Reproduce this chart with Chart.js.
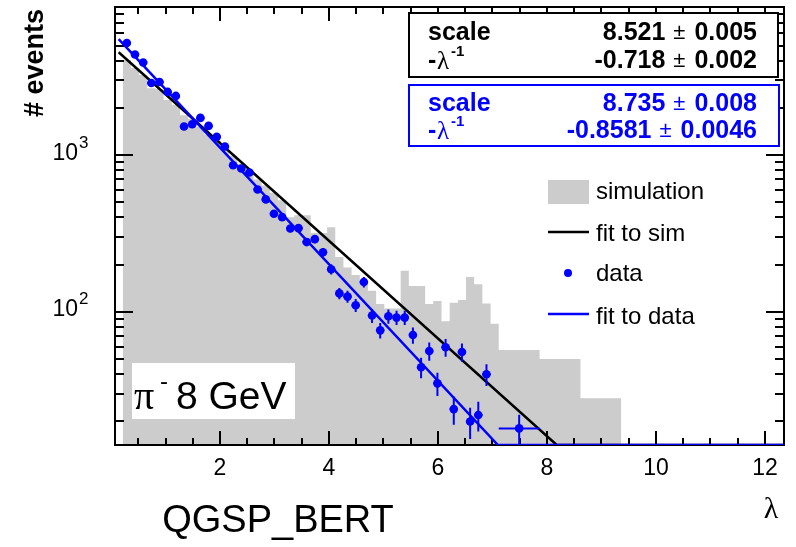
<!DOCTYPE html>
<html><head><meta charset="utf-8">
<script src="https://cdn.jsdelivr.net/npm/chart.js@4"></script>
<style>html,body{margin:0;padding:0;background:#fff}#wrap{width:796px;height:547px;position:relative}</style>
</head><body><div id="wrap"><canvas id="c" width="796" height="547"></canvas></div>
<script>
// ---- data ----
const simEdges = [0.215,0.365,0.515,0.665,0.815,0.965,1.115,1.265,1.415,1.565,1.715,1.865,2.015,2.165,2.315,2.465,2.615,2.765,2.915,3.065,3.215,3.365,3.515,3.665,3.815,3.965,4.115,4.265,4.415,4.565,4.715,4.865,5.015,5.165,5.315,5.465,5.615,5.765,5.915,6.065,6.215,6.365,6.515,6.665,6.815,6.965,7.115,7.865,8.615,9.365];
const simCounts = [4050,3600,3250,2680,2650,2250,2100,1800,1700,1520,1350,1230,1080,990,880,800,700,640,575,515,402,414,414,318,318,346,224,192,172,155,136,112,105,105,183,146,146,112,117,87,114,119,167,150,113,84,57,50,28];
const dataX = [0.29,0.44,0.59,0.74,0.89,1.04,1.19,1.34,1.49,1.64,1.79,1.94,2.09,2.24,2.39,2.54,2.69,2.84,2.99,3.14,3.29,3.44,3.59,3.74,3.89,4.04,4.19,4.34,4.49,4.64,4.79,4.94,5.09,5.24,5.39,5.54,5.69,5.84,5.99,6.14,6.29,6.44,6.59,6.74,6.89,7.49];
const dataY = [5208,4391,3905,2893,2936,2535,2390,1525,1577,1730,1538,1309,1136,863,823,776,604,522,423,402,340,342,279,291,240,187,131,125,110,155,94.6,76.1,93.6,91.8,91.8,71.0,44.2,56.1,34.9,59.3,23.9,55.3,19.9,21.9,39.9,18.0];
const dataYErr = [72,66,62,54,54,50,49,39,40,42,39,36,34,29,29,28,25,23,21,20,18,18,17,17,15,14,11,11,10.5,12,9.7,8.7,9.7,9.6,9.6,8.4,6.6,7.5,5.9,7.7,4.9,7.4,4.5,4.7,6.3,4];
const dataXErr = [0.075,0.075,0.075,0.075,0.075,0.075,0.075,0.075,0.075,0.075,0.075,0.075,0.075,0.075,0.075,0.075,0.075,0.075,0.075,0.075,0.075,0.075,0.075,0.075,0.075,0.075,0.075,0.075,0.075,0.075,0.075,0.075,0.075,0.075,0.075,0.075,0.075,0.075,0.075,0.075,0.075,0.075,0.075,0.075,0.075,0.375];
const fitSimX = [0.14, 8.18, 12.35];
const fitSimY = [4543, 14.1, 14.1];
const fitDataX = [0.14, 7.10, 12.35];
const fitDataY = [5515, 14.1, 14.1];
const xTickValues = [2,4,6,8,10,12];
const yTickValues = [100,1000];
const yTickExps = ['2','3'];
const legendLabels = ['simulation','fit to sim','data','fit to data'];
const simStats = [['scale','8.521','0.005'],['-λ','-0.718','0.002']];
const dataStats = [['scale','8.735','0.008'],['-λ','-0.8581','0.0046']];

const SANS = '"Liberation Sans", Arial, sans-serif';
const SERIF = '"Liberation Serif", "DejaVu Serif", serif';
const BLUE = '#0000ff', GRAY = '#cccccc';

const histPoints = simCounts.map((c,i)=>({x:simEdges[i], y:c}));
histPoints.push({x:simEdges[simEdges.length-1], y:simCounts[simCounts.length-1]});

function drawFrame(chart){
  const {ctx, chartArea:a, scales:{x,y}} = chart;
  ctx.save();
  ctx.strokeStyle='#000'; ctx.lineWidth=2;
  ctx.strokeRect(a.left, a.top, a.right-a.left, a.bottom-a.top);
  ctx.beginPath();
  for (let v=0.5; v<=x.max+1e-9; v+=0.5){
    const px = Math.round(x.getPixelForValue(v));
    const major = Math.abs(v/2-Math.round(v/2))<1e-6;
    const L = major?14:7;
    ctx.moveTo(px,a.bottom); ctx.lineTo(px,a.bottom-L);
    ctx.moveTo(px,a.top); ctx.lineTo(px,a.top+L);
  }
  for (const d of [10,100,1000]){
    for (let m=1;m<=9;m++){
      const v=m*d; if (v<y.min||v>y.max) continue;
      const py=Math.round(y.getPixelForValue(v));
      const L = m===1?18:9;
      ctx.moveTo(a.left,py); ctx.lineTo(a.left+L,py);
      ctx.moveTo(a.right,py); ctx.lineTo(a.right-L,py);
    }
  }
  ctx.stroke();
  ctx.restore();
}

function drawErrors(chart){
  const {ctx, chartArea:a, scales:{x,y}} = chart;
  ctx.save();
  ctx.beginPath(); ctx.rect(a.left,a.top,a.right-a.left,a.bottom-a.top+2); ctx.clip();
  ctx.strokeStyle=BLUE; ctx.lineWidth=2;
  ctx.beginPath();
  dataX.forEach((xv,i)=>{
    const px=x.getPixelForValue(xv), py=y.getPixelForValue(dataY[i]);
    const y1=y.getPixelForValue(dataY[i]+dataYErr[i]);
    const y2=y.getPixelForValue(Math.max(dataY[i]-dataYErr[i], y.min));
    ctx.moveTo(px,y1); ctx.lineTo(px,y2);
    ctx.moveTo(x.getPixelForValue(xv-dataXErr[i]),py); ctx.lineTo(x.getPixelForValue(xv+dataXErr[i]),py);
  });
  ctx.stroke();
  ctx.restore();
}

function statRow(ctx, row, yc, color){
  const [name,val,err]=row;
  ctx.fillStyle=color; ctx.textBaseline='middle';
  ctx.font='bold 25px '+SANS; ctx.textAlign='left';
  if (name==='scale'){ ctx.fillText(name, 428, yc); }
  else {
    ctx.fillText('-', 428, yc);
    ctx.font='25px '+SERIF; ctx.fillText('λ', 437, yc+1);
    ctx.font='bold 15px '+SANS; ctx.fillText('-1', 451, yc-9);
  }
  ctx.font='bold 25px '+SANS; ctx.textAlign='right';
  ctx.fillText(err, 757, yc);
  const ew = ctx.measureText(err).width;
  ctx.font='22px '+SANS; ctx.textAlign='right';
  const pmRight = 757-ew-9;
  ctx.fillText('±', pmRight, yc);
  const pw = ctx.measureText('±').width;
  ctx.font='bold 25px '+SANS;
  ctx.fillText(val, pmRight-pw-8, yc);
}

function drawTexts(chart){
  const {ctx, chartArea:a, scales:{x,y}} = chart;
  ctx.save();
  ctx.fillStyle='#000';
  // y tick labels with superscripts
  yTickValues.forEach((v,i)=>{
    const py=y.getPixelForValue(v);
    ctx.font='23px '+SANS; ctx.textAlign='right'; ctx.textBaseline='middle';
    ctx.fillText('10', 78, py-2);
    ctx.font='17px '+SANS; ctx.textAlign='left';
    ctx.fillText(yTickExps[i], 79, py-12);
  });
  // y title
  ctx.save();
  ctx.translate(36,63); ctx.rotate(-Math.PI/2);
  ctx.font='bold 27px '+SANS; ctx.textAlign='center'; ctx.textBaseline='middle';
  ctx.fillText('# events',0,0);
  ctx.restore();
  // x title λ
  ctx.font='30px '+SERIF; ctx.textAlign='center'; ctx.textBaseline='middle';
  ctx.fillText('λ', 771, 510);
  // QGSP_BERT
  ctx.font='38px '+SANS; ctx.textAlign='center'; ctx.textBaseline='middle';
  ctx.fillText('QGSP_BERT', 278, 522);
  // pi box
  ctx.fillStyle='#fff'; ctx.fillRect(132,363,163,56);
  ctx.fillStyle='#000'; ctx.textBaseline='alphabetic'; ctx.textAlign='left';
  ctx.font='40px '+SERIF; ctx.fillText('π', 134, 409);
  ctx.font='24px '+SANS; ctx.fillText('-', 160, 389);
  ctx.font='39px '+SANS; ctx.fillText('8 GeV', 176, 409);
  // legend
  ctx.fillStyle=GRAY; ctx.fillRect(548,180,41,24);
  ctx.strokeStyle='#000'; ctx.lineWidth=2.5;
  ctx.beginPath(); ctx.moveTo(548,232); ctx.lineTo(589,232); ctx.stroke();
  ctx.fillStyle=BLUE; ctx.beginPath(); ctx.arc(568,273,4,0,Math.PI*2); ctx.fill();
  ctx.strokeStyle=BLUE; ctx.beginPath(); ctx.moveTo(548,314); ctx.lineTo(589,314); ctx.stroke();
  ctx.fillStyle='#000'; ctx.font='24px '+SANS; ctx.textAlign='left'; ctx.textBaseline='middle';
  const ly=[192,234,274,317];
  legendLabels.forEach((t,i)=>ctx.fillText(t,596,ly[i]));
  // stats boxes
  ctx.fillStyle='#fff'; ctx.fillRect(409,13,369,64);
  ctx.strokeStyle='#000'; ctx.lineWidth=2; ctx.strokeRect(409,13,369,64);
  statRow(ctx, simStats[0], 33, '#000');
  statRow(ctx, simStats[1], 61, '#000');
  ctx.fillStyle='#fff'; ctx.fillRect(409,85,370,61);
  ctx.strokeStyle=BLUE; ctx.lineWidth=2; ctx.strokeRect(409,85,370,61);
  statRow(ctx, dataStats[0], 104, BLUE);
  statRow(ctx, dataStats[1], 131, BLUE);
  ctx.restore();
}

const annot = {
  id:'annot',
  beforeDatasetDraw(chart,args){ if(args.index===3) drawErrors(chart); },
  afterDatasetDraw(chart,args){ if(args.index===0) drawFrame(chart); },
  afterDraw(chart){ drawTexts(chart); }
};

new Chart(document.getElementById('c'), {
  type:'line',
  data:{datasets:[
    {label:'simulation', data:histPoints, stepped:'before', fill:'start', backgroundColor:GRAY, borderColor:GRAY, borderWidth:0, pointRadius:0, order:4},
    {label:'fit to sim', data:fitSimX.map((v,i)=>({x:v,y:fitSimY[i]})), borderColor:'#000', borderWidth:2.5, pointRadius:0, fill:false, tension:0, order:3},
    {label:'fit to data', data:fitDataX.map((v,i)=>({x:v,y:fitDataY[i]})), borderColor:BLUE, borderWidth:2.5, pointRadius:0, fill:false, tension:0, order:2},
    {label:'data', data:dataX.map((v,i)=>({x:v,y:dataY[i]})), showLine:false, pointRadius:4.3, pointBackgroundColor:BLUE, pointBorderWidth:0, borderColor:BLUE, fill:false, order:1}
  ]},
  options:{
    responsive:false, animation:false, devicePixelRatio:1, events:[],
    layout:{padding:{left:0,right:12,top:7,bottom:0}},
    plugins:{legend:{display:false}, tooltip:{enabled:false}},
    scales:{
      x:{type:'linear', min:0.073, max:12.35,
        grid:{display:false, drawTicks:false}, border:{display:false},
        ticks:{font:{family:SANS,size:23}, color:'#000', padding:10, autoSkip:false, maxRotation:0, callback:(v)=>String(v)},
        afterBuildTicks:(s)=>{ s.ticks = xTickValues.map(v=>({value:v})); },
        afterFit:(s)=>{ s.height=102; }},
      y:{type:'logarithmic', min:14.1, max:8836,
        grid:{display:false, drawTicks:false}, border:{display:false},
        ticks:{display:false},
        afterFit:(s)=>{ s.width=115; }}
    }
  },
  plugins:[annot]
});
</script>
</body></html>
